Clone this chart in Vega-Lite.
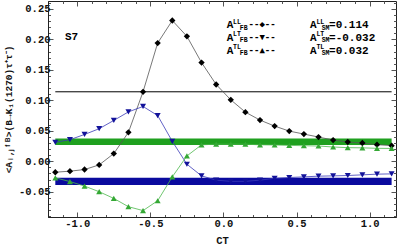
{
  "$schema": "https://vega.github.io/schema/vega-lite/v6.json",
  "width": 348,
  "height": 216,
  "autosize": "none",
  "padding": {"left": 48, "right": 4, "top": 1, "bottom": 31},
  "background": "white",
  "config": {
    "view": {"stroke": "#222", "strokeWidth": 1},
    "font": "Liberation Mono",
    "axis": {
      "domainColor": "#222",
      "tickColor": "#555",
      "labelFont": "Liberation Mono",
      "labelFontWeight": "bold",
      "labelFontSize": 10.5,
      "labelColor": "#111",
      "titleFont": "Liberation Mono",
      "titleFontWeight": "bold",
      "titleColor": "#111",
      "grid": false
    }
  },
  "datasets": {
    "LL": [
      {"ct": -1.15, "v": -0.018}, {"ct": -1.05, "v": -0.0163}, {"ct": -0.95, "v": -0.0136}, {"ct": -0.85, "v": -0.006},
      {"ct": -0.75, "v": 0.0126}, {"ct": -0.65, "v": 0.0474}, {"ct": -0.55, "v": 0.114}, {"ct": -0.45, "v": 0.194},
      {"ct": -0.35, "v": 0.231}, {"ct": -0.25, "v": 0.205}, {"ct": -0.15, "v": 0.162}, {"ct": -0.05, "v": 0.126},
      {"ct": 0.05, "v": 0.1008}, {"ct": 0.15, "v": 0.0806}, {"ct": 0.25, "v": 0.0675}, {"ct": 0.35, "v": 0.0577},
      {"ct": 0.45, "v": 0.0495}, {"ct": 0.55, "v": 0.0446}, {"ct": 0.65, "v": 0.0397}, {"ct": 0.75, "v": 0.0348},
      {"ct": 0.85, "v": 0.0316}, {"ct": 0.95, "v": 0.030}, {"ct": 1.05, "v": 0.0272}, {"ct": 1.15, "v": 0.0256}
    ],
    "LT": [
      {"ct": -1.15, "v": 0.031}, {"ct": -1.05, "v": 0.0354}, {"ct": -0.95, "v": 0.044}, {"ct": -0.85, "v": 0.0534},
      {"ct": -0.75, "v": 0.067}, {"ct": -0.65, "v": 0.081}, {"ct": -0.55, "v": 0.0899}, {"ct": -0.45, "v": 0.075},
      {"ct": -0.35, "v": 0.0327}, {"ct": -0.25, "v": -0.0049}, {"ct": -0.15, "v": -0.024}, {"ct": -0.05, "v": -0.031},
      {"ct": 0.05, "v": -0.033}, {"ct": 0.15, "v": -0.033}, {"ct": 0.25, "v": -0.031}, {"ct": 0.35, "v": -0.028},
      {"ct": 0.45, "v": -0.0267}, {"ct": 0.55, "v": -0.0256}, {"ct": 0.65, "v": -0.0245}, {"ct": 0.75, "v": -0.024},
      {"ct": 0.85, "v": -0.0234}, {"ct": 0.95, "v": -0.0223}, {"ct": 1.05, "v": -0.0212}, {"ct": 1.15, "v": -0.0207}
    ],
    "TL": [
      {"ct": -1.15, "v": -0.0272}, {"ct": -1.05, "v": -0.0333}, {"ct": -0.95, "v": -0.0408}, {"ct": -0.85, "v": -0.050},
      {"ct": -0.75, "v": -0.061}, {"ct": -0.65, "v": -0.0746}, {"ct": -0.55, "v": -0.081}, {"ct": -0.45, "v": -0.0648},
      {"ct": -0.35, "v": -0.0256}, {"ct": -0.25, "v": 0.0087}, {"ct": -0.15, "v": 0.027}, {"ct": -0.05, "v": 0.028},
      {"ct": 0.05, "v": 0.028}, {"ct": 0.15, "v": 0.028}, {"ct": 0.25, "v": 0.027}, {"ct": 0.35, "v": 0.0267},
      {"ct": 0.45, "v": 0.026}, {"ct": 0.55, "v": 0.0255}, {"ct": 0.65, "v": 0.025}, {"ct": 0.75, "v": 0.0234},
      {"ct": 0.85, "v": 0.0223}, {"ct": 0.95, "v": 0.022}, {"ct": 1.05, "v": 0.0212}, {"ct": 1.15, "v": 0.021}
    ],
    "bands": [
      {"s": "TL", "x1": -1.15, "x2": 1.15, "lo": 0.0265, "hi": 0.0375},
      {"s": "LT", "x1": -1.15, "x2": 1.15, "lo": -0.039, "hi": -0.027}
    ],
    "sm": [{"x1": -1.15, "x2": 1.15, "v": 0.114}],
    "big": [
      {"x": 0.022, "y": 0.2179, "t": "A"}, {"x": 0.022, "y": 0.1974, "t": "A"}, {"x": 0.022, "y": 0.1768, "t": "A"},
      {"x": 0.592, "y": 0.2179, "t": "A"}, {"x": 0.592, "y": 0.1974, "t": "A"}, {"x": 0.592, "y": 0.1768, "t": "A"}
    ],
    "sup": [
      {"x": 0.066, "y": 0.2179, "t": "LL"}, {"x": 0.066, "y": 0.1974, "t": "LT"}, {"x": 0.066, "y": 0.1768, "t": "TL"},
      {"x": 0.636, "y": 0.2179, "t": "LL"}, {"x": 0.636, "y": 0.1974, "t": "LT"}, {"x": 0.636, "y": 0.1768, "t": "TL"}
    ],
    "sub": [
      {"x": 0.112, "y": 0.2179, "t": "FB"}, {"x": 0.112, "y": 0.1974, "t": "FB"}, {"x": 0.112, "y": 0.1768, "t": "FB"},
      {"x": 0.672, "y": 0.2179, "t": "SM"}, {"x": 0.672, "y": 0.1974, "t": "SM"}, {"x": 0.672, "y": 0.1768, "t": "SM"}
    ],
    "dash": [
      {"x": 0.172, "y": 0.2179, "t": "--◆--"}, {"x": 0.172, "y": 0.1974, "t": "--▼--"}, {"x": 0.172, "y": 0.1768, "t": "--▲--"}
    ],
    "rest": [
      {"x": 0.722, "y": 0.2179, "t": "=0.114"}, {"x": 0.722, "y": 0.1974, "t": "=-0.032"}, {"x": 0.722, "y": 0.1768, "t": "=0.032"},
      {"x": -1.084, "y": 0.199, "t": "S7"}
    ]
  },
  "resolve": {"axis": {"x": "independent", "y": "independent"}},
  "layer": [
    {
      "data": {"name": "bands"},
      "mark": {"type": "rect"},
      "encoding": {
        "x": {"field": "x1", "type": "quantitative",
          "scale": {"domain": [-1.2, 1.18], "nice": false, "zero": false},
          "axis": {
            "orient": "bottom", "title": "CT", "titleFontSize": 10.5, "titlePadding": 4,
            "values": [-1.2, -1.1, -1.0, -0.9, -0.8, -0.7, -0.6, -0.5, -0.4, -0.3, -0.2, -0.1, 0, 0.1, 0.2, 0.3, 0.4, 0.5, 0.6, 0.7, 0.8, 0.9, 1.0, 1.1],
            "labelExpr": "abs(datum.value*2 - round(datum.value*2)) < 0.001 ? replace(format(datum.value, '.1f'), '\u2212', '-') : ''",
            "tickSize": {"condition": {"test": "abs(datum.value*2 - round(datum.value*2)) < 0.001", "value": -5}, "value": -2.5},
            "labelPadding": 6, "labelFlush": false, "labelOverlap": false
          }},
        "x2": {"field": "x2"},
        "y": {"field": "lo", "type": "quantitative",
          "scale": {"domain": [-0.0915, 0.263], "nice": false, "zero": false},
          "axis": {
            "orient": "left", "title": "<Aᵢ,ⱼᶠᴮ>(B→K₁(1270)τ⁺τ⁻)", "titleFontSize": 9.5, "titlePadding": 5,
            "values": [-0.09, -0.08, -0.07, -0.06, -0.05, -0.04, -0.03, -0.02, -0.01, 0, 0.01, 0.02, 0.03, 0.04, 0.05, 0.06, 0.07, 0.08, 0.09, 0.1, 0.11, 0.12, 0.13, 0.14, 0.15, 0.16, 0.17, 0.18, 0.19, 0.2, 0.21, 0.22, 0.23, 0.24, 0.25, 0.26],
            "labelExpr": "abs(datum.value*20 - round(datum.value*20)) < 0.001 ? replace(format(datum.value, '.2f'), '\u2212', '-') : ''",
            "tickSize": {"condition": {"test": "abs(datum.value*20 - round(datum.value*20)) < 0.001", "value": -5}, "value": -2.5},
            "labelPadding": 3, "labelOverlap": false
          }},
        "y2": {"field": "hi"},
        "color": {"field": "s", "type": "nominal", "legend": null,
          "scale": {"domain": ["TL", "LT"], "range": ["#1fa01f", "#0a0a9e"]}}
      }
    },
    {
      "data": {"name": "sm"},
      "mark": {"type": "rule", "color": "#000", "strokeWidth": 1},
      "encoding": {
        "x": {"field": "x1", "type": "quantitative",
          "axis": {"orient": "top", "title": null, "labels": false, "domain": false,
            "values": [-1.2, -1.1, -1.0, -0.9, -0.8, -0.7, -0.6, -0.5, -0.4, -0.3, -0.2, -0.1, 0, 0.1, 0.2, 0.3, 0.4, 0.5, 0.6, 0.7, 0.8, 0.9, 1.0, 1.1],
            "tickSize": {"condition": {"test": "abs(datum.value*2 - round(datum.value*2)) < 0.001", "value": -5}, "value": -2.5}}},
        "x2": {"field": "x2"},
        "y": {"field": "v", "type": "quantitative",
          "axis": {"orient": "right", "title": null, "labels": false, "domain": false,
            "values": [-0.09, -0.08, -0.07, -0.06, -0.05, -0.04, -0.03, -0.02, -0.01, 0, 0.01, 0.02, 0.03, 0.04, 0.05, 0.06, 0.07, 0.08, 0.09, 0.1, 0.11, 0.12, 0.13, 0.14, 0.15, 0.16, 0.17, 0.18, 0.19, 0.2, 0.21, 0.22, 0.23, 0.24, 0.25, 0.26],
            "tickSize": {"condition": {"test": "abs(datum.value*20 - round(datum.value*20)) < 0.001", "value": -5}, "value": -2.5}}}
      }
    },
    {
      "data": {"name": "LL"},
      "mark": {"type": "line", "color": "#555", "strokeWidth": 0.8},
      "encoding": {
        "x": {"field": "ct", "type": "quantitative", "axis": null},
        "y": {"field": "v", "type": "quantitative", "axis": null}
      }
    },
    {
      "data": {"name": "LT"},
      "mark": {"type": "line", "color": "#3a3ab8", "strokeWidth": 0.8},
      "encoding": {
        "x": {"field": "ct", "type": "quantitative", "axis": null},
        "y": {"field": "v", "type": "quantitative", "axis": null}
      }
    },
    {
      "data": {"name": "TL"},
      "mark": {"type": "line", "color": "#4cb84c", "strokeWidth": 0.8},
      "encoding": {
        "x": {"field": "ct", "type": "quantitative", "axis": null},
        "y": {"field": "v", "type": "quantitative", "axis": null}
      }
    },
    {
      "data": {"name": "LL"},
      "mark": {"type": "point", "shape": "diamond", "filled": true, "color": "#000", "size": 40, "opacity": 1},
      "encoding": {
        "x": {"field": "ct", "type": "quantitative", "axis": null},
        "y": {"field": "v", "type": "quantitative", "axis": null}
      }
    },
    {
      "data": {"name": "LT"},
      "mark": {"type": "point", "shape": "triangle-down", "filled": true, "color": "#12129a", "size": 36, "opacity": 1},
      "encoding": {
        "x": {"field": "ct", "type": "quantitative", "axis": null},
        "y": {"field": "v", "type": "quantitative", "axis": null}
      }
    },
    {
      "data": {"name": "TL"},
      "mark": {"type": "point", "shape": "triangle-up", "filled": true, "color": "#34a834", "size": 36, "opacity": 1},
      "encoding": {
        "x": {"field": "ct", "type": "quantitative", "axis": null},
        "y": {"field": "v", "type": "quantitative", "axis": null}
      }
    },
    {
      "data": {"name": "big"},
      "mark": {"type": "text", "font": "Liberation Mono", "fontWeight": "bold", "fontSize": 11, "align": "left", "baseline": "alphabetic", "color": "#000"},
      "encoding": {
        "x": {"field": "x", "type": "quantitative", "axis": null},
        "y": {"field": "y", "type": "quantitative", "axis": null},
        "text": {"field": "t"}
      }
    },
    {
      "data": {"name": "sup"},
      "mark": {"type": "text", "font": "Liberation Mono", "fontWeight": "bold", "fontSize": 6.5, "align": "left", "baseline": "alphabetic", "dy": -4.5, "color": "#000"},
      "encoding": {
        "x": {"field": "x", "type": "quantitative", "axis": null},
        "y": {"field": "y", "type": "quantitative", "axis": null},
        "text": {"field": "t"}
      }
    },
    {
      "data": {"name": "sub"},
      "mark": {"type": "text", "font": "Liberation Mono", "fontWeight": "bold", "fontSize": 6.5, "align": "left", "baseline": "alphabetic", "dy": 1.5, "color": "#000"},
      "encoding": {
        "x": {"field": "x", "type": "quantitative", "axis": null},
        "y": {"field": "y", "type": "quantitative", "axis": null},
        "text": {"field": "t"}
      }
    },
    {
      "data": {"name": "dash"},
      "mark": {"type": "text", "font": "DejaVu Sans Mono", "fontWeight": "bold", "fontSize": 9, "align": "left", "baseline": "alphabetic", "dy": -1, "color": "#000"},
      "encoding": {
        "x": {"field": "x", "type": "quantitative", "axis": null},
        "y": {"field": "y", "type": "quantitative", "axis": null},
        "text": {"field": "t"}
      }
    },
    {
      "data": {"name": "rest"},
      "mark": {"type": "text", "font": "Liberation Mono", "fontWeight": "bold", "fontSize": 11, "align": "left", "baseline": "alphabetic", "color": "#000"},
      "encoding": {
        "x": {"field": "x", "type": "quantitative", "axis": null},
        "y": {"field": "y", "type": "quantitative", "axis": null},
        "text": {"field": "t"}
      }
    }
  ]
}
